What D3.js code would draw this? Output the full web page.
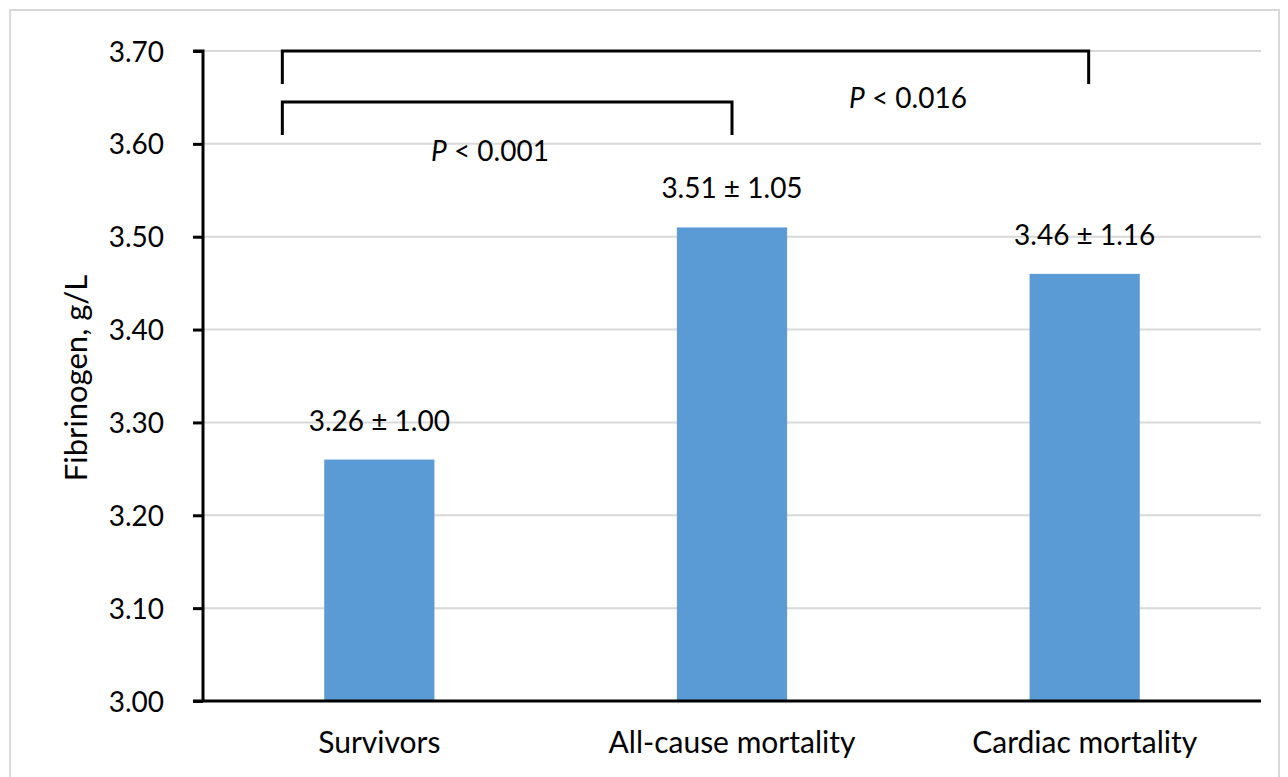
<!DOCTYPE html>
<html><head><meta charset="utf-8">
<script src="https://cdn.jsdelivr.net/npm/d3@7"></script>
<style>body{margin:0;background:#fff}svg{display:block}text{font-family:Lato,"Open Sans",sans-serif;fill:#000}</style>
</head><body>
<script>
const categories = ["Survivors", "All-cause mortality", "Cardiac mortality"];
const means = [3.26, 3.51, 3.46];
const sds = [1.00, 1.05, 1.16];
const yTicks = [3.00, 3.10, 3.20, 3.30, 3.40, 3.50, 3.60, 3.70];
const comparisons = [
  {from: "Survivors", to: "Cardiac mortality", level: 3.70, label: "0.016"},
  {from: "Survivors", to: "All-cause mortality", level: 3.645, label: "0.001"}
];

const W = 1288, H = 777;
const m = {left: 203, right: 27, top: 51, bottom: 76};
const FONT = "Lato, 'Open Sans', sans-serif";
const svg = d3.select("body").append("svg").attr("width", W).attr("height", H);
svg.append("rect").attr("x", 10).attr("y", 10).attr("width", W - 19).attr("height", H - 8)
  .attr("fill", "none").attr("stroke", "#d9d9d9").attr("stroke-width", 2);

const x = d3.scaleBand().domain(categories).range([m.left, W - m.right]).paddingInner(0.6875).paddingOuter(0.34375);
const y = d3.scaleLinear().domain([3.0, 3.7]).range([H - m.bottom, m.top]);

// gridlines
svg.append("g").selectAll("line").data(yTicks).join("line")
  .attr("x1", m.left).attr("x2", W - m.right)
  .attr("y1", d => y(d)).attr("y2", d => y(d))
  .attr("stroke", "#d9d9d9").attr("stroke-width", 2);

// bars
svg.append("g").selectAll("rect").data(categories).join("rect")
  .attr("x", d => x(d)).attr("width", x.bandwidth())
  .attr("y", (d, i) => y(means[i])).attr("height", (d, i) => y(3.0) - y(means[i]))
  .attr("fill", "#5b9bd5");

// value labels
svg.append("g").selectAll("text").data(categories).join("text")
  .attr("x", d => x(d) + x.bandwidth() / 2)
  .attr("y", (d, i) => y(means[i]) - 29)
  .attr("text-anchor", "middle").attr("font-size", 28)
  .text((d, i) => `${means[i].toFixed(2)} ± ${sds[i].toFixed(2)}`);

// y axis
const ya = svg.append("g").attr("transform", `translate(${m.left},0)`)
  .call(d3.axisLeft(y).tickValues(yTicks).tickFormat(d3.format(".2f")).tickSize(10).tickPadding(29));
ya.select(".domain").attr("stroke", "#000").attr("stroke-width", 3).attr("d", `M-10,${y(3.7)}H0V${y(3.0)}`);
ya.selectAll(".tick line").attr("stroke", "#000").attr("stroke-width", 3);
ya.selectAll(".tick text").attr("font-size", 28).attr("font-family", FONT).attr("dy", "0.36em");

// x axis
const xa = svg.append("g").attr("transform", `translate(0,${y(3.0)})`)
  .call(d3.axisBottom(x).tickSize(0));
xa.select(".domain").attr("stroke", "#000").attr("stroke-width", 3).attr("d", `M${m.left - 10},0H${W - m.right}`);
xa.selectAll(".tick text").attr("font-size", 30).attr("font-family", FONT).attr("y", 52).attr("dy", 0);

// y title
svg.append("text").attr("transform", `translate(87,${(y(3.0) + y(3.7)) / 2 + 2}) rotate(-90)`)
  .attr("text-anchor", "middle").attr("font-size", 31)
  .attr("font-family", "'Liberation Sans', Arial, sans-serif").text("Fibrinogen, g/L");

// brackets
const bk = svg.append("g");
comparisons.forEach((c, i) => {
  const x1 = x(c.from) + x.bandwidth() / 2 - 97;
  const x2 = x(c.to) + x.bandwidth() / 2 + (i === 0 ? 4 : 0);
  const yy = y(c.level);
  bk.append("path").attr("d", `M${x1},${yy + 33}V${yy}H${x2}V${yy + 33}`)
    .attr("fill", "none").attr("stroke", "#000").attr("stroke-width", 3);
});
const pLabels = [
  {c: comparisons[0], xPos: 908, yPos: 108},
  {c: comparisons[1], xPos: 490, yPos: 161}
];
pLabels.forEach(p => {
  const t = svg.append("text").attr("x", p.xPos).attr("y", p.yPos).attr("text-anchor", "middle").attr("font-size", 28);
  t.append("tspan").attr("font-style", "italic").text("P");
  t.append("tspan").text(" < " + p.c.label);
});
</script>
</body></html>
